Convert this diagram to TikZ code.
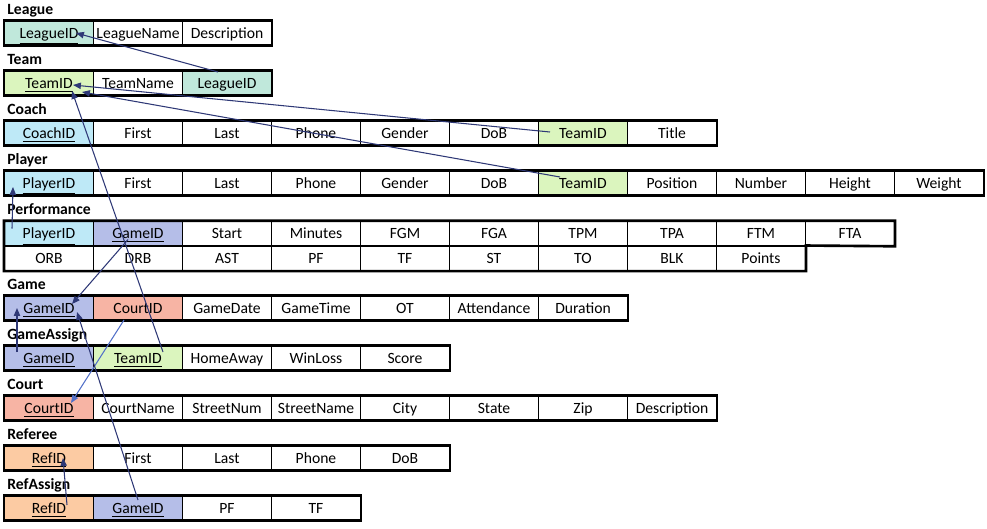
\documentclass[tikz,border=0pt]{standalone}
\usepackage{fontspec}
\setmainfont{Carlito}
\usetikzlibrary{arrows.meta}

\definecolor{leagueclr}{RGB}{192,232,219}
\definecolor{teamclr}{RGB}{219,245,190}
\definecolor{personclr}{RGB}{190,233,247}
\definecolor{gameclr}{RGB}{181,190,232}
\definecolor{courtclr}{RGB}{247,180,164}
\definecolor{refclr}{RGB}{252,203,163}
\definecolor{linkclr}{RGB}{46,56,118}
\definecolor{courtlinkclr}{RGB}{82,112,200}

\newcommand{\cellfont}{\fontsize{8.9}{10}\selectfont}

\begin{document}
\begin{tikzpicture}[x=0.02cm, y=-0.02cm,
  cell/.style={draw=black, line width=0.6pt, minimum width=1.78cm, minimum height=0.49cm, inner sep=0pt,
    text height=7pt, text depth=0.8pt, font=\cellfont},
  plain/.style={},
  lg/.style={fill=leagueclr}, tm/.style={fill=teamclr}, pr/.style={fill=personclr},
  gm/.style={fill=gameclr}, ct/.style={fill=courtclr}, rf/.style={fill=refclr},
  title/.style={anchor=base west, inner sep=0pt, font=\cellfont\bfseries},
  outer/.style={draw=black, line width=1.5pt},
  fk/.style={draw=linkclr, line width=0.6pt, -{Triangle[length=4.5pt,width=3.6pt]}}]
  \useasboundingbox (0,0) rectangle (987,528);

  % Tables
  \node[title] (leaguet) at (7,14) {League};
  \foreach \f/\s [count=\i] in {\underline{LeagueID}/lg, LeagueName/plain, Description/plain}
    \node[cell,\s] (league-\i) at ({49+89*(\i-1)},33) {\f};
  \draw[outer] (league-1.north west) rectangle (league-3.south east);

  \node[title] (teamt) at (7,64) {Team};
  \foreach \f/\s [count=\i] in {\underline{TeamID}/tm, TeamName/plain, LeagueID/lg}
    \node[cell,\s] (team-\i) at ({49+89*(\i-1)},83) {\f};
  \draw[outer] (team-1.north west) rectangle (team-3.south east);

  \node[title] (coacht) at (7,114) {Coach};
  \foreach \f/\s [count=\i] in {\underline{CoachID}/pr, First/plain, Last/plain, Phone/plain, Gender/plain, DoB/plain, TeamID/tm, Title/plain}
    \node[cell,\s] (coach-\i) at ({49+89*(\i-1)},133) {\f};
  \draw[outer] (coach-1.north west) rectangle (coach-8.south east);

  \node[title] (playert) at (7,164) {Player};
  \foreach \f/\s [count=\i] in {\underline{PlayerID}/pr, First/plain, Last/plain, Phone/plain, Gender/plain, DoB/plain, TeamID/tm, Position/plain, Number/plain, Height/plain, Weight/plain}
    \node[cell,\s] (player-\i) at ({49+89*(\i-1)},183) {\f};
  \draw[outer] (player-1.north west) rectangle (player-11.south east);

  \node[title] (perft) at (7,214) {Performance};
  \foreach \f/\s [count=\i] in {\underline{PlayerID}/pr, \underline{GameID}/gm, Start/plain, Minutes/plain, FGM/plain, FGA/plain, TPM/plain, TPA/plain, FTM/plain, FTA/plain}
    \node[cell,\s] (perf-\i) at ({49+89*(\i-1)},233.5) {\f};
  \foreach \f [count=\i from 11] in {ORB, DRB, AST, PF, TF, ST, TO, BLK, Points}
    \node[cell] (perf-\i) at ({49+89*(\i-11)},258.3) {\f};
  \draw[outer] (perf-1.north west) -- (perf-10.north east) -- (perf-10.south east)
    -- (perf-19.north east) -- (perf-19.south east) -- (perf-11.south west) -- cycle;

  \node[title] (gamet) at (7,289) {Game};
  \foreach \f/\s [count=\i] in {\underline{GameID}/gm, CourtID/ct, GameDate/plain, GameTime/plain, OT/plain, Attendance/plain, Duration/plain}
    \node[cell,\s] (game-\i) at ({49+89*(\i-1)},308) {\f};
  \draw[outer] (game-1.north west) rectangle (game-7.south east);

  \node[title] (gassignt) at (7,339) {GameAssign};
  \foreach \f/\s [count=\i] in {\underline{GameID}/gm, \underline{TeamID}/tm, HomeAway/plain, WinLoss/plain, Score/plain}
    \node[cell,\s] (gassign-\i) at ({49+89*(\i-1)},358) {\f};
  \draw[outer] (gassign-1.north west) rectangle (gassign-5.south east);

  \node[title] (courtt) at (7,389) {Court};
  \foreach \f/\s [count=\i] in {\underline{CourtID}/ct, CourtName/plain, StreetNum/plain, StreetName/plain, City/plain, State/plain, Zip/plain, Description/plain}
    \node[cell,\s] (court-\i) at ({49+89*(\i-1)},408) {\f};
  \draw[outer] (court-1.north west) rectangle (court-8.south east);

  \node[title] (refereet) at (7,439) {Referee};
  \foreach \f/\s [count=\i] in {\underline{RefID}/rf, First/plain, Last/plain, Phone/plain, DoB/plain}
    \node[cell,\s] (referee-\i) at ({49+89*(\i-1)},458) {\f};
  \draw[outer] (referee-1.north west) rectangle (referee-5.south east);

  \node[title] (rassignt) at (7,489) {RefAssign};
  \foreach \f/\s [count=\i] in {\underline{RefID}/rf, \underline{GameID}/gm, PF/plain, TF/plain}
    \node[cell,\s] (rassign-\i) at ({49+89*(\i-1)},508) {\f};
  \draw[outer] (rassign-1.north west) rectangle (rassign-4.south east);

  % Foreign keys
  \draw[fk] ([shift={(-9,-11)}]team-3.center) -- ([shift={(27,0)}]league-1.center);
  \draw[fk] ([shift={(-33,-1)}]coach-7.center) -- ([shift={(24,2)}]team-1.center);
  \draw[fk] ([shift={(-23,-6)}]player-7.center) -- ([shift={(33,9)}]team-1.center);
  \draw[fk] ([shift={(25,-6)}]gassign-2.center) -- ([shift={(23,8)}]team-1.center);
  \draw[fk] ([shift={(-37,-5)}]perf-1.center) -- ([shift={(-36,4)}]player-1.center);
  \draw[fk] ([shift={(-10,6)}]perf-2.center) -- ([shift={(23,-4)}]game-1.center);
  \draw[fk] ([shift={(-32,-6)}]gassign-1.center) -- ([shift={(-32,0)}]game-1.center);
  \draw[fk, draw=courtlinkclr] ([shift={(-14,12)}]game-2.center) -- ([shift={(22,-5)}]court-1.center);
  \draw[fk] ([shift={(0,-8)}]rassign-2.center) -- ([shift={(28,4)}]game-1.center);
  \draw[fk] ([shift={(18,-3)}]rassign-1.center) -- ([shift={(14,0)}]referee-1.center);
\end{tikzpicture}
\end{document}
